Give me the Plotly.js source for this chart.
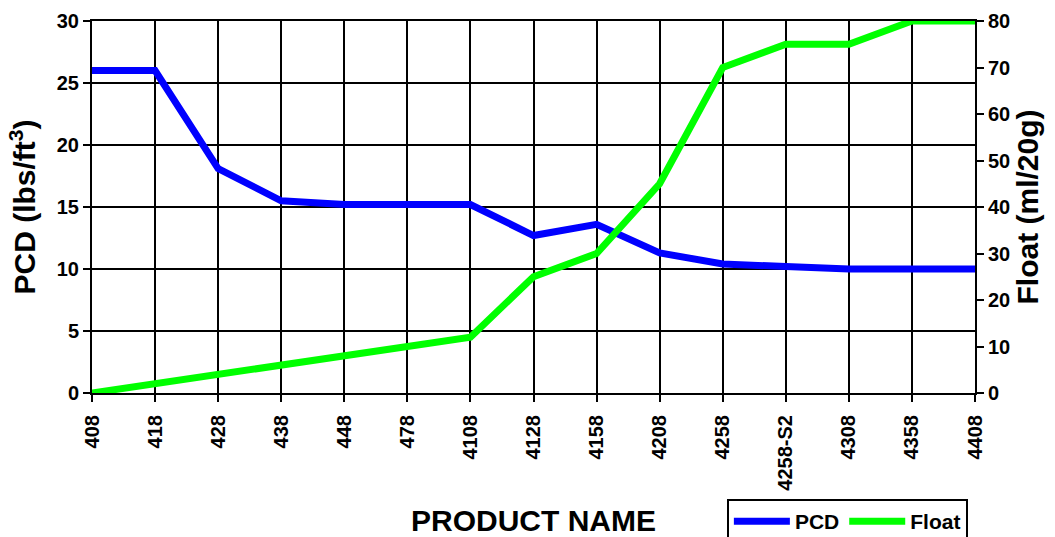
<!DOCTYPE html>
<html>
<head>
<meta charset="utf-8">
<script src="https://cdn.plot.ly/plotly-3.0.1.min.js"></script>
<style>html,body{margin:0;padding:0;background:#fff;}#chart{width:1055px;height:537px;}</style>
</head>
<body>
<div id="chart"></div>
<script>
const products = ["408","418","428","438","448","478","4108","4128","4158","4208","4258","4258-S2","4308","4358","4408"];
const pcd = [26, 26, 18.1, 15.5, 15.2, 15.2, 15.2, 12.7, 13.6, 11.3, 10.4, 10.2, 10, 10, 10];
const floatVals = [0, 2, 4, 6, 8, 10, 12, 25, 30, 45, 70, 75, 75, 80, 80];

const FONT = 'Liberation Sans, Arial, sans-serif';

const traces = [
  {x: products, y: pcd, name: 'PCD', type: 'scatter', mode: 'lines',
   line: {color: '#0000FF', width: 7}, yaxis: 'y'},
  {x: products, y: floatVals, name: 'Float', type: 'scatter', mode: 'lines',
   line: {color: '#00FF00', width: 7}, yaxis: 'y2'}
];

const layout = {
  width: 1055, height: 537,
  margin: {l: 92, r: 80, t: 21, b: 144, autoexpand: false},
  paper_bgcolor: '#fff', plot_bgcolor: '#fff',
  font: {family: FONT, color: '#000', size: 20, weight: 'bold'},
  showlegend: true,
  legend: {orientation: 'h', x: 0.719, y: -0.285, xanchor: 'left', yanchor: 'top',
    bordercolor: '#000', borderwidth: 2, bgcolor: '#fff',
    itemwidth: 56, tracegroupgap: 0,
    font: {family: FONT, size: 21, weight: 'bold', color: '#000'}},
  xaxis: {
    type: 'category', range: [0, 14],
    tickangle: -90,
    tickfont: {family: FONT, size: 20, weight: 'bold', color: '#000'},
    ticklabelstandoff: 5,
    showgrid: true, gridcolor: '#000', gridwidth: 2,
    showline: true, linecolor: '#000', linewidth: 2, mirror: true,
    ticks: 'outside', ticklen: 7, tickwidth: 2, tickcolor: '#000',
    title: {text: 'PRODUCT NAME', font: {family: FONT, size: 30, weight: 'bold', color: '#000'}, standoff: 24},
    zeroline: false
  },
  yaxis: {
    range: [0, 30], dtick: 5, tick0: 0,
    tickfont: {family: FONT, size: 20, weight: 'bold', color: '#000'},
    showgrid: true, gridcolor: '#000', gridwidth: 2,
    showline: true, linecolor: '#000', linewidth: 2,
    ticks: 'outside', ticklen: 7, tickwidth: 2, tickcolor: '#000',
    title: {text: 'PCD (lbs/ft<sup>3</sup>)', font: {family: FONT, size: 30, weight: 'bold', color: '#000'}, standoff: 12},
    zeroline: false
  },
  yaxis2: {
    overlaying: 'y', side: 'right',
    range: [0, 80], dtick: 10, tick0: 0,
    tickfont: {family: FONT, size: 20, weight: 'bold', color: '#000'},
    showgrid: false,
    showline: true, linecolor: '#000', linewidth: 2,
    ticks: 'outside', ticklen: 7, tickwidth: 2, tickcolor: '#000',
    title: {text: 'Float (ml/20g)', font: {family: FONT, size: 30, weight: 'bold', color: '#000'}, standoff: 8},
    zeroline: false
  }
};

Plotly.newPlot('chart', traces, layout, {displayModeBar: false, staticPlot: true});
</script>
</body>
</html>
